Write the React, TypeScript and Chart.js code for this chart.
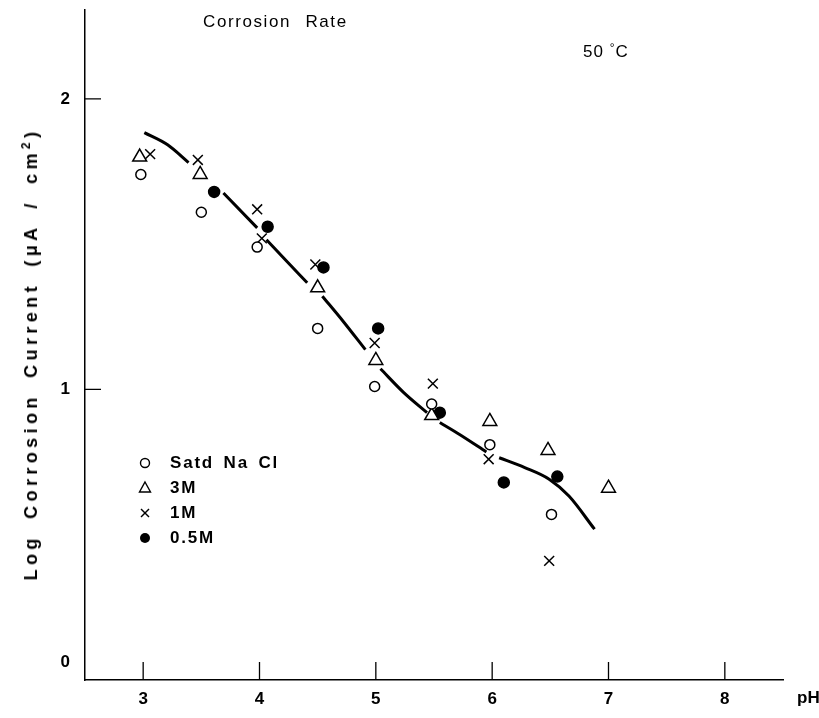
import React, { useEffect, useRef } from "react";
import { Chart, registerables } from "chart.js";

Chart.register(...registerables);

// Satd NaCl (open circles)
const satdPH = [2.98, 3.5, 3.98, 4.5, 4.99, 5.48, 5.98, 6.51];
const satdLog = [1.74, 1.61, 1.49, 1.21, 1.01, 0.95, 0.81, 0.57];
// 3M (open triangles)
const m3PH = [2.97, 3.49, 4.5, 5.0, 5.48, 5.98, 6.48, 7.0];
const m3Log = [1.8, 1.74, 1.35, 1.1, 0.91, 0.89, 0.79, 0.66];
// 1M (crosses)
const m1PH = [3.06, 3.47, 3.98, 4.02, 4.48, 4.99, 5.49, 5.97, 6.49];
const m1Log = [1.81, 1.79, 1.62, 1.52, 1.43, 1.16, 1.02, 0.76, 0.41];
// 0.5M (filled circles)
const m05PH = [3.61, 4.07, 4.55, 5.02, 5.55, 6.1, 6.56];
const m05Log = [1.68, 1.56, 1.42, 1.21, 0.92, 0.68, 0.7];
// hand-drawn fit curve (null = gap in the drawn line)
const curvePH = [3.01, 3.21, 3.39, 3.54, 3.69, 3.98, 4.02, 4.06, 4.23, 4.41, 4.48, 4.54, 4.72, 4.91, 4.98, 5.04, 5.24, 5.44, 5.5, 5.55, 5.72, 5.95, 6.0, 6.06, 6.28, 6.49, 6.66, 6.88];
const curveLog = [1.884, 1.842, 1.781, null, 1.676, 1.556, null, 1.515, 1.443, 1.367, null, 1.321, 1.234, 1.137, null, 1.071, 0.989, 0.92, null, 0.886, 0.845, 0.785, null, 0.765, 0.731, 0.691, 0.633, 0.519];

const xTickValues = [3, 4, 5, 6, 7, 8];
const yTickValues = [0, 1, 2];

const legendLabels = ["Satd Na Cl", "3M", "1M", "0.5M"];

const pts = (xs: number[], ys: (number | null)[]) => xs.map((x, i) => ({ x, y: ys[i] }));

const tickMarks = {
  id: "tickMarks",
  afterDraw(chart: any) {
    const { ctx, chartArea, scales } = chart;
    ctx.save();
    ctx.strokeStyle = "#000";
    ctx.lineWidth = 1.3;
    ctx.beginPath();
    xTickValues.forEach((v) => {
      const px = scales.x.getPixelForValue(v);
      ctx.moveTo(px, chartArea.bottom);
      ctx.lineTo(px, chartArea.bottom - 18);
    });
    yTickValues.forEach((v) => {
      if (v === 0) return;
      const py = scales.y.getPixelForValue(v);
      ctx.moveTo(chartArea.left, py);
      ctx.lineTo(chartArea.left + 16, py);
    });
    ctx.stroke();
    ctx.restore();
  },
};

const textFont = '"Liberation Sans", Arial, sans-serif';

export default function App() {
  const ref = useRef<HTMLCanvasElement>(null);

  useEffect(() => {
    if (!ref.current) return;
    const marker = { showLine: false, borderColor: "#000", pointBorderWidth: 1.5 } as any;
    const chart = new Chart(ref.current, {
      type: "scatter",
      data: {
        datasets: [
          {
            type: "line",
            label: "fit",
            data: pts(curvePH, curveLog) as any,
            borderColor: "#000",
            borderWidth: 3,
            pointRadius: 0,
            cubicInterpolationMode: "monotone",
            spanGaps: false,
            fill: false,
          } as any,
          { ...marker, label: legendLabels[0], data: pts(satdPH, satdLog), pointStyle: "circle", pointRadius: 5, pointBackgroundColor: "#fff" },
          { ...marker, label: legendLabels[1], data: pts(m3PH, m3Log), pointStyle: "triangle", pointRadius: 8, pointBackgroundColor: "#fff" },
          { ...marker, label: legendLabels[2], data: pts(m1PH, m1Log), pointStyle: "crossRot", pointRadius: 7, pointBackgroundColor: "#fff" },
          { ...marker, label: legendLabels[3], data: pts(m05PH, m05Log), pointStyle: "circle", pointRadius: 5.5, pointBackgroundColor: "#000" },
        ],
      },
      options: {
        animation: false,
        responsive: true,
        maintainAspectRatio: false,
        layout: { padding: { top: 10, right: 36, left: 0, bottom: 0 } },
        plugins: { legend: { display: false }, tooltip: { enabled: false }, title: { display: false } },
        scales: {
          x: {
            type: "linear",
            min: 2.5,
            max: 8.5,
            afterBuildTicks: (s: any) => {
              s.ticks = xTickValues.map((v) => ({ value: v }));
            },
            afterFit: (s: any) => {
              s.height = 38;
              s.paddingLeft = 0;
              s.paddingRight = 0;
            },
            grid: { drawOnChartArea: false, drawTicks: false },
            border: { display: true, color: "#000", width: 1.5 },
            ticks: { color: "#000", padding: 9, font: { family: textFont, size: 17, weight: "bold" } },
          },
          y: {
            type: "linear",
            min: 0,
            max: 2.306,
            afterBuildTicks: (s: any) => {
              s.ticks = yTickValues.map((v) => ({ value: v }));
            },
            afterFit: (s: any) => {
              s.width = 85;
              s.paddingTop = 0;
              s.paddingBottom = 0;
            },
            grid: { drawOnChartArea: false, drawTicks: false },
            border: { display: true, color: "#000", width: 1.5 },
            ticks: {
              color: "#000",
              padding: 15,
              font: { family: textFont, size: 17, weight: "bold", lineHeight: 2.1 },
              callback: (v: any) => (v === 0 ? ["0", ""] : String(v)),
            },
          },
        },
      } as any,
      plugins: [tickMarks],
    });
    return () => chart.destroy();
  }, []);

  const textBase: React.CSSProperties = {
    position: "absolute",
    fontFamily: textFont,
    color: "#000",
    whiteSpace: "nowrap",
    lineHeight: 1,
  };

  const rowY = [463, 488, 513, 538];
  const markers = [
    <circle cx="10" cy="10" r="4.5" fill="#fff" stroke="#000" strokeWidth="1.4" />,
    <polygon points="10,4 15.5,14 4.5,14" fill="#fff" stroke="#000" strokeWidth="1.4" />,
    <g stroke="#000" strokeWidth="1.4"><line x1="6" y1="6" x2="14" y2="14" /><line x1="14" y1="6" x2="6" y2="14" /></g>,
    <circle cx="10" cy="10" r="5" fill="#000" />,
  ];

  return (
    <div style={{ position: "absolute", left: 0, top: 0, width: 819, height: 718, background: "#fff" }}>
      <canvas ref={ref} />
      <div style={{ ...textBase, left: 203, top: 13, fontSize: 17, letterSpacing: 1.6, wordSpacing: 8 }}>Corrosion Rate</div>
      <div style={{ ...textBase, left: 583, top: 42, fontSize: 17, letterSpacing: 1 }}>
        50 <span style={{ fontSize: 12, verticalAlign: 5 }}>°</span>C
      </div>
      <div
        style={{
          ...textBase,
          left: 30,
          top: 354,
          fontSize: 18,
          fontWeight: "bold",
          letterSpacing: 4.4,
          wordSpacing: 6,
          transform: "translate(-50%, -50%) rotate(-90deg)",
        }}
      >
        Log Corrosion Current (μA / cm<sup style={{ fontSize: 12 }}>2</sup>)
      </div>
      <div style={{ ...textBase, left: 797, top: 689, fontSize: 17, fontWeight: "bold" }}>pH</div>
      {legendLabels.map((lab, i) => (
        <React.Fragment key={lab}>
          <svg style={{ position: "absolute", left: 135, top: rowY[i] - 10 }} width="20" height="20">
            {markers[i]}
          </svg>
          <div style={{ ...textBase, left: 170, top: rowY[i] - 9, fontSize: 17, fontWeight: "bold", letterSpacing: 1.8, wordSpacing: 3 }}>
            {lab}
          </div>
        </React.Fragment>
      ))}
    </div>
  );
}
